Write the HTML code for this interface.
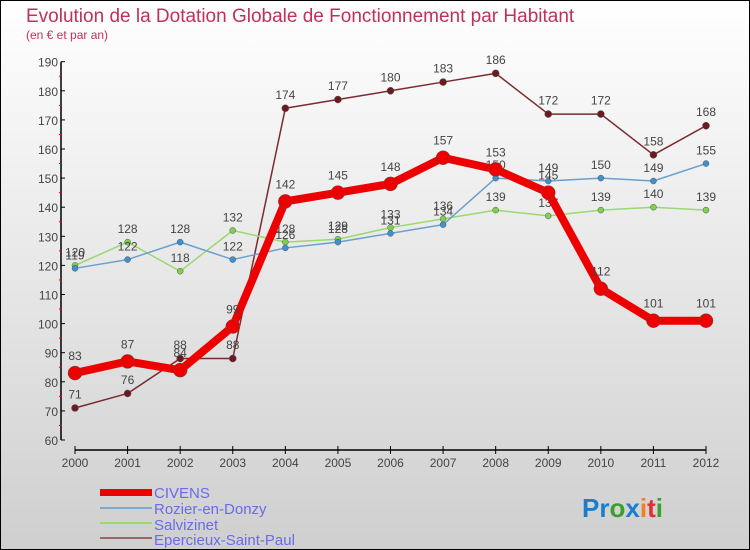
<!DOCTYPE html>
<html><head><meta charset="utf-8"><style>
body{margin:0}
svg{display:block;font-family:"Liberation Sans",sans-serif}
</style></head><body>
<svg id="c" width="750" height="550">
<defs><linearGradient id="bg" x1="0" y1="0" x2="0" y2="1"><stop offset="0" stop-color="#ffffff"/><stop offset="1" stop-color="#cfcfcf"/></linearGradient></defs>
<rect x="0.5" y="0.5" width="749" height="549" fill="url(#bg)" stroke="#000"/>
<text x="26" y="22" font-size="19" fill="#c0305a">Evolution de la Dotation Globale de Fonctionnement par Habitant</text>
<text x="26" y="39" font-size="12" fill="#c0305a">(en € et par an)</text>
<g id="axes"></g><g id="series"></g>
<g>
<rect x="100" y="489" width="52" height="7" fill="#e00"/>
<text x="154" y="498" font-size="15" fill="#6a6aee">CIVENS</text>
<line x1="100" y1="508" x2="152" y2="508" stroke="#7aaad0" stroke-width="2"/>
<text x="154" y="514" font-size="15" fill="#6a6aee">Rozier-en-Donzy</text>
<line x1="100" y1="523" x2="152" y2="523" stroke="#9ad870" stroke-width="2"/>
<text x="154" y="530" font-size="15" fill="#6a6aee">Salvizinet</text>
<line x1="100" y1="538" x2="152" y2="538" stroke="#9a6868" stroke-width="2"/>
<text x="154" y="545" font-size="15" fill="#6a6aee">Epercieux-Saint-Paul</text>
</g>
<text x="582" y="517" font-size="26" font-weight="bold"><tspan fill="#1a7ed0">Pr</tspan><tspan fill="#3aa030">o</tspan><tspan fill="#1a7ed0">x</tspan><tspan fill="#f08020">i</tspan><tspan fill="#e03030">t</tspan><tspan fill="#3aa030">i</tspan></text>
</svg>
<script>
const years=["2000","2001","2002","2003","2004","2005","2006","2007","2008","2009","2010","2011","2012"];
const yTicks=[60,70,80,90,100,110,120,130,140,150,160,170,180,190];
const civens=[83,87,84,99,142,145,148,157,153,145,112,101,101];
const rozier=[119,122,128,122,126,128,131,134,150,149,150,149,155];
const salvizinet=[120,128,118,132,128,129,133,136,139,137,139,140,139];
const epercieux=[71,76,88,88,174,177,180,183,186,172,172,158,168];
const NS="http://www.w3.org/2000/svg";
function x(i){return 75+i*(706-75)/(years.length-1);}
function y(v){return 440-(v-60)*29.1/10;}
function mk(tag,attrs,parent){const e=document.createElementNS(NS,tag);for(const k in attrs)e.setAttribute(k,attrs[k]);parent.appendChild(e);return e;}
const ax=document.getElementById('axes');
let l=mk('line',{x1:61,y1:y(190),x2:61,y2:y(60),stroke:'#000','stroke-width':1.5},ax);


yTicks.forEach(v=>{
  mk('line',{x1:61,y1:y(v),x2:65,y2:y(v),stroke:'#000'},ax);
  mk('line',{x1:59,y1:y(v+5),x2:62,y2:y(v+5),stroke:'#e00'},ax).style.display=v<190?'':'none';
  const t=mk('text',{x:58,y:y(v)+5,'text-anchor':'end','font-size':12,fill:'#444'},ax);t.textContent=v;
  
  
});
l=mk('line',{x1:x(0),y1:450,x2:x(12),y2:450,stroke:'#000','stroke-width':1.5},ax);


years.forEach((yr,i)=>{
  mk('line',{x1:x(i),y1:446,x2:x(i),y2:454,stroke:'#000'},ax);
  const t=mk('text',{x:x(i),y:467,'text-anchor':'middle','font-size':12,fill:'#444'},ax);t.textContent=yr;
  
  
});
const sg=document.getElementById('series');
function draw(data,name,color,w,r,dot){
  const g=mk('g',{},sg);
  
  
  const p=mk('polyline',{points:data.map((v,i)=>x(i)+','+y(v)).join(' '),fill:'none',stroke:color,'stroke-width':w,'stroke-linejoin':'round'},g);
  
  
  data.forEach((v,i)=>{
    const c=mk('circle',{cx:x(i),cy:y(v),r:r,fill:dot,stroke:'#555','stroke-width':0.5},g);
    
    
    const t=mk('text',{x:x(i),y:y(v)-r-6,'text-anchor':'middle','font-size':12,fill:'#444'},g);t.textContent=v;
    
    
  });
}
draw(epercieux,'epercieux','#7a2a30',1.5,3.5,'#6a1a20');
draw(salvizinet,'salvizinet','#9ad870',1.5,3,'#80d050');
draw(rozier,'rozier','#6aa0d0',1.5,3,'#4090d0');
draw(civens,'civens','#ee0000',8,7,'#ee0000');
</script>
</body></html>
